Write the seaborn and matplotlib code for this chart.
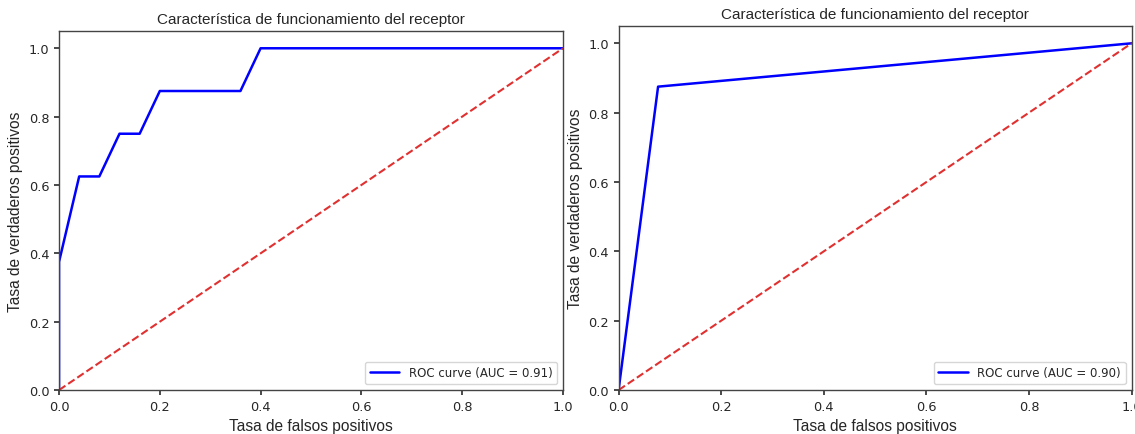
import matplotlib
matplotlib.use("Agg")
import matplotlib.pyplot as plt
import seaborn as sns
import pandas as pd

# ROC del primer modelo (curva escalonada)
fpr_a = [0.0, 0.0, 0.04, 0.08, 0.12, 0.16, 0.20, 0.36, 0.40, 1.0]
tpr_a = [0.0, 0.375, 0.625, 0.625, 0.75, 0.75, 0.875, 0.875, 1.0, 1.0]
auc_a = 0.91

# ROC del segundo modelo (un solo umbral)
fpr_b = [0.0, 0.077, 1.0]
tpr_b = [0.0, 0.875, 1.0]
auc_b = 0.90

diag = [0.0, 1.0]

titulo = "Característica de funcionamiento del receptor"
xlab = "Tasa de falsos positivos"
ylab = "Tasa de verdaderos positivos"
ticks = [0.0, 0.2, 0.4, 0.6, 0.8, 1.0]


def dibujar_roc(ax, fpr, tpr, auc):
    df = pd.DataFrame({"fpr": fpr, "tpr": tpr})
    # estimator=None para no promediar los puntos con el mismo fpr
    sns.lineplot(data=df, x="fpr", y="tpr", ax=ax, sort=False, estimator=None,
                 color="blue", linewidth=1.8,
                 label=f"ROC curve (AUC = {auc:.2f})")
    sns.lineplot(x=diag, y=diag, ax=ax, color="#e03030", linestyle="--",
                 linewidth=1.5)
    ax.set_xlim(0.0, 1.0)
    ax.set_ylim(0.0, 1.05)
    ax.set_xticks(ticks)
    ax.set_yticks(ticks)
    ax.set_title(titulo, fontsize=11, family="Liberation Sans", pad=6)
    ax.set_xlabel(xlab, fontsize=11.2, family="Liberation Sans")
    ax.set_ylabel(ylab, fontsize=11.2, family="Liberation Sans")
    ax.tick_params(labelsize=9.3, length=3.5, color="#333333")
    for s in ax.spines.values():
        s.set_color("#444444")
        s.set_linewidth(1.0)
    leg = ax.legend(loc="lower right", fontsize=8.5, frameon=True,
                    handlelength=2.5, borderaxespad=0.5)
    leg.get_frame().set_edgecolor("#cccccc")


sns.set_theme(style="ticks")
plt.rcParams["font.family"] = ["DejaVu Sans"]

fig = plt.figure(figsize=(11.35, 4.35), dpi=100)
ax1 = fig.add_axes([0.052, 0.101, 0.444, 0.825])
ax2 = fig.add_axes([0.545, 0.101, 0.452, 0.837])

dibujar_roc(ax1, fpr_a, tpr_a, auc_a)
dibujar_roc(ax2, fpr_b, tpr_b, auc_b)

fig.savefig("out.png", dpi=100)
